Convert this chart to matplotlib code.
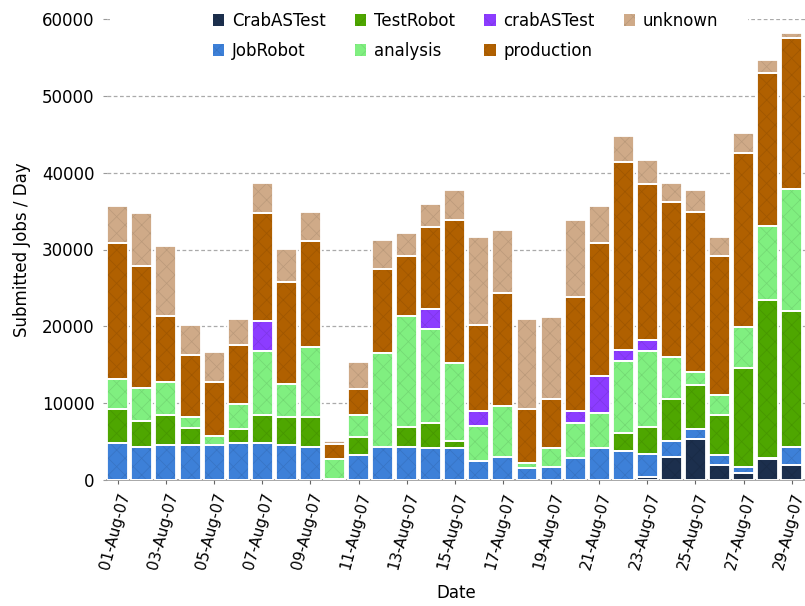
import matplotlib
matplotlib.use("Agg")
import matplotlib.pyplot as plt
import matplotlib.colors as mcolors
from matplotlib.patches import Rectangle
import numpy as np

plt.rcParams['font.family'] = ['DejaVu Sans']
plt.rcParams['hatch.linewidth'] = 0.5

dates = ["%02d-Aug-07" % d for d in range(1, 30)]

series_names = ["CrabASTest", "JobRobot", "TestRobot", "analysis",
                "crabASTest", "production", "unknown"]

crab_AS_test_upper = [0, 0, 0, 0, 0, 0, 0, 0, 0, 0, 0, 0, 0, 0, 0, 0, 0, 0, 0, 0,
                      0, 0, 400, 3000, 5400, 1900, 950, 2700, 1900]
job_robot = [4800, 4300, 4500, 4500, 4500, 4800, 4800, 4500, 4300, 150,
             3300, 4300, 4300, 4100, 4100, 2500, 3000, 1500, 1700, 2800,
             4100, 3800, 3000, 2100, 1300, 1400, 800, 100, 2400]
test_robot = [4400, 3400, 3900, 2300, 0, 1900, 3700, 3700, 3900, 0,
              2300, 0, 2600, 3300, 1000, 0, 0, 0, 0, 0,
              0, 2300, 3500, 5400, 5600, 5200, 12800, 20600, 17700]
analysis = [3900, 4300, 4400, 1400, 1200, 3200, 8300, 4300, 9100, 2600,
            2900, 12200, 14400, 12300, 10100, 4500, 6600, 700, 2400, 4600,
            4600, 9400, 9900, 5500, 1800, 2500, 5400, 9700, 15900]
crab_as_test_lower = [0, 0, 0, 0, 0, 0, 3900, 0, 0, 0,
                      0, 0, 0, 2600, 0, 2000, 0, 0, 0, 1600,
                      4900, 1400, 1400, 0, 0, 0, 0, 0, 0]
production = [17700, 15900, 8600, 8100, 7100, 7700, 14000, 13300, 13800, 2000,
              3400, 11000, 7800, 10600, 18600, 11200, 14700, 7100, 6400, 14800,
              17200, 24500, 20300, 20200, 20800, 18100, 22600, 19900, 19600]
unknown = [4800, 6900, 9100, 3900, 3900, 3300, 3900, 4200, 3800, 350,
           3500, 3700, 3000, 3000, 3900, 11400, 8300, 11600, 10700, 10000,
           4800, 3400, 3100, 2500, 2800, 2500, 2600, 1600, 700]

series_values = [crab_AS_test_upper, job_robot, test_robot, analysis,
                 crab_as_test_lower, production, unknown]
colors = ["#1c2f4d", "#3d80d8", "#4ea600", "#80ef80",
          "#8c3cff", "#b06000", "#cfaa88"]

y_ticks = [0, 10000, 20000, 30000, 40000, 50000, 60000]

fig = plt.figure(figsize=(8.05, 6.06), dpi=100)
ax = fig.add_axes([107/805, 126/606, 698/805, 461/606])

x = np.arange(len(dates))
width = 0.87
bottom = np.zeros(len(dates))
handles = []
for name, vals, col in zip(series_names, series_values, colors):
    v = np.array(vals, dtype=float)
    rgb = np.array(mcolors.to_rgb(col))
    hcol = tuple(rgb * 0.9)
    b = ax.bar(x, v, width, bottom=bottom, color=col, edgecolor=hcol,
               hatch='xx', linewidth=0, zorder=2, label=name)
    ax.bar(x, v, width, bottom=bottom, fill=False, edgecolor='white',
           linewidth=1.3, zorder=3)
    handles.append(b)
    bottom += v

ax.set_xlim(-0.45, len(dates) - 0.45)
ax.set_ylim(0, 60000)
ax.set_yticks(y_ticks)
ax.set_yticklabels([str(t) for t in y_ticks], fontsize=12)
ax.set_xticks(x[::2])
ax.set_xticklabels(dates[::2], rotation=75, ha='right', rotation_mode='anchor',
                   fontsize=11)
ax.tick_params(axis='y', length=3, color='#999999', pad=6)
ax.tick_params(axis='x', length=3, color='#666666', pad=5)

for s in ['top', 'right', 'left']:
    ax.spines[s].set_visible(False)
ax.spines['bottom'].set_color('#999999')
ax.spines['bottom'].set_linewidth(1.2)

ax.set_axisbelow(True)
ax.yaxis.grid(True, linestyle=(0, (3, 2)), color='#aaaaaa', linewidth=0.9)

# white area behind legend
ax.add_patch(Rectangle((110/805, 1 - 70/606), (748 - 110)/805, 65/606,
                       transform=fig.transFigure, facecolor='white',
                       edgecolor='none', zorder=1))

ax.set_ylabel("Submitted Jobs / Day", fontsize=12, labelpad=8)
ax.set_xlabel("Date", fontsize=12, labelpad=9)

leg = fig.legend(handles, series_names, ncol=4, loc='upper left',
                 bbox_to_anchor=(201/805, 1 - 0/606), frameon=False,
                 fontsize=12, handlelength=0.7, handleheight=0.7,
                 handletextpad=0.45, columnspacing=1.75, labelspacing=0.75,
                 borderpad=0.2)

fig.savefig("out.png", dpi=100)
